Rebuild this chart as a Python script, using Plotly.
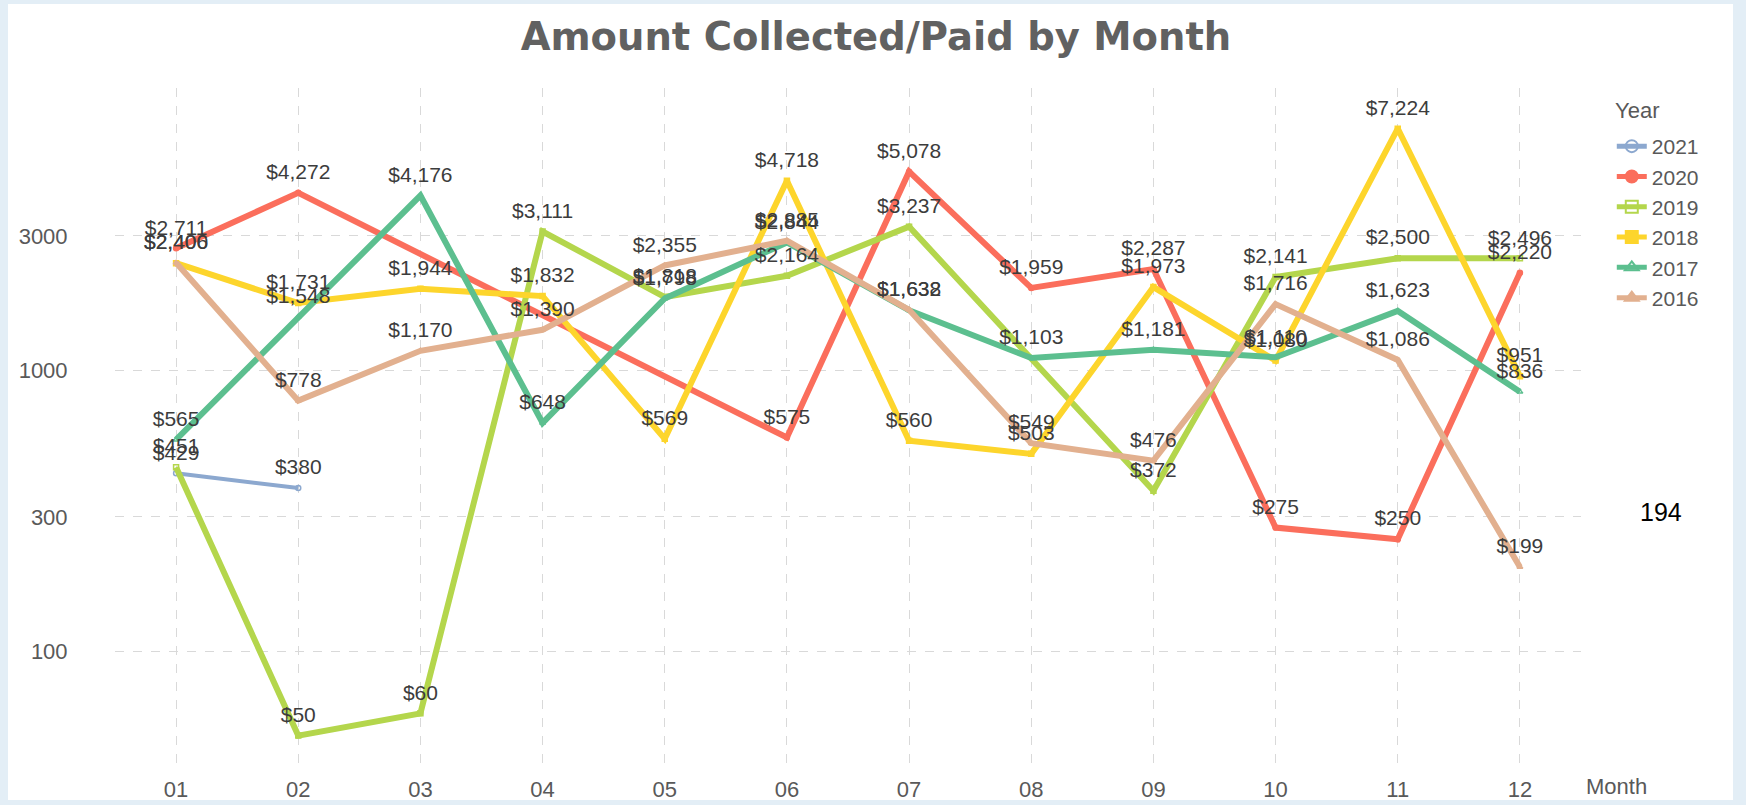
import plotly.graph_objects as go

months = ['01', '02', '03', '04', '05', '06', '07', '08', '09', '10', '11', '12']
years = ['2021', '2020', '2019', '2018', '2017', '2016']

y2021 = [429, 380, None, None, None, None, None, None, None, None, None, None]
y2020 = [2711, 4272, None, None, None, 575, 5078, 1959, 2287, 275, 250, 2220]
y2019 = [451, 50, 60, 3111, 1818, 2164, 3237, None, 372, 2141, 2500, 2496]
y2018 = [2400, 1731, 1944, 1832, 569, 4718, 560, 503, 1973, 1080, 7224, 951]
y2017 = [565, 1548, 4176, 648, 1798, 2844, 1632, 1103, 1181, 1110, 1623, 836]
y2016 = [2406, 778, 1170, 1390, 2355, 2885, 1638, 549, 476, 1716, 1086, 199]

y_tick_vals = [100, 300, 1000, 3000]
y_tick_text = ['100', '300', '1000', '3000']

series = [y2021, y2020, y2019, y2018, y2017, y2016]
colors = ['#8ca8cf', '#fb6e5c', '#b4d64c', '#fdd52c', '#5cbf8f', '#e2b08f']
symbols = ['circle-open', 'circle', 'square-open', 'square', 'triangle-up-open', 'triangle-up']
widths = [4, 6, 6, 6, 6, 6]

LABEL_FONT = 'Liberation Sans, Arial, sans-serif'

fig = go.Figure()

for name, ys, col, sym, w in zip(years, series, colors, symbols, widths):
    fig.add_trace(go.Scatter(
        x=months, y=ys, name=name, mode='lines+markers',
        connectgaps=True,
        line=dict(color=col, width=w),
        marker=dict(symbol=sym, size=5, color=col, line=dict(color=col, width=1.5)),
        hoverinfo='skip',
    ))

for name, ys in zip(years, series):
    fig.add_trace(go.Scatter(
        x=months, y=ys, mode='markers+text', showlegend=False,
        marker=dict(size=12, color='rgba(0,0,0,0)'),
        texttemplate='$%{y:,.0f}', textposition='top center',
        textfont=dict(family=LABEL_FONT, size=21, color='#3c3c3c'),
        hoverinfo='skip',
    ))

fig.update_layout(
    width=1746, height=805,
    margin=dict(l=115, r=165, t=88, b=40, autoexpand=False),
    paper_bgcolor='#e3eef6', plot_bgcolor='white',
    font=dict(family=LABEL_FONT, color='#595959'),
    title=dict(text='Amount Collected/Paid by Month', xref='container', x=0.5017, xanchor='center',
               yref='container', y=1 - 37 / 805, yanchor='middle',
               font=dict(family='DejaVu Sans', size=38.5, color='#616161', weight='bold')),
    xaxis=dict(type='category', range=[-0.5, 11.5], showgrid=True, griddash='dash',
               gridcolor='#d9d9d9', gridwidth=1, zeroline=False, showline=False,
               automargin=False,
               ticks='outside', ticklen=5, tickcolor='rgba(0,0,0,0)',
               tickfont=dict(size=22, color='#595959')),
    yaxis=dict(type='log', range=[1.5944, 4.0035], tickvals=y_tick_vals, ticktext=y_tick_text,
               showgrid=True, griddash='dash', gridcolor='#d9d9d9', gridwidth=1,
               zeroline=False, showline=False, ticks='outside', ticklen=42,
               automargin=False,
               tickcolor='rgba(0,0,0,0)', tickfont=dict(size=22, color='#595959')),
    legend=dict(x=1.021, xanchor='left', y=(765 - 126) / 677, yanchor='top',
                bgcolor='rgba(0,0,0,0)', font=dict(size=21, color='#595959'),
                itemsizing='constant', tracegroupgap=0),
    shapes=[dict(type='rect', xref='paper', yref='paper', layer='below',
                 x0=(8 - 115) / 1466, x1=(1733 - 115) / 1466,
                 y0=(765 - 800) / 677, y1=(765 - 4) / 677,
                 fillcolor='white', line=dict(width=0))],
    annotations=[
        dict(text='Year', xref='paper', yref='paper', x=(1613 - 115) / 1466, y=(765 - 110) / 677,
             xanchor='left', yanchor='middle', showarrow=False,
             font=dict(size=22, color='#595959')),
        dict(text='Month', xref='paper', yref='paper', x=(1584 - 115) / 1466, y=(765 - 786) / 677,
             xanchor='left', yanchor='middle', showarrow=False,
             font=dict(size=22, color='#595959')),
        dict(text='194', xref='paper', yref='paper', x=(1661 - 115) / 1466, y=(765 - 512) / 677,
             xanchor='center', yanchor='middle', showarrow=False,
             font=dict(size=25, color='#000000')),
    ],
)

fig.write_html('out.html', config={'displayModeBar': False},
               post_script="document.body.style.margin='0';document.body.style.overflow='hidden';")
